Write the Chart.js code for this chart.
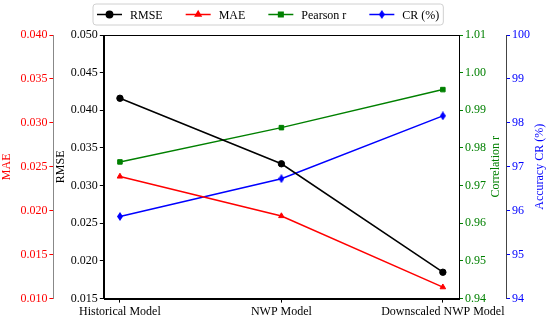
<!DOCTYPE html>
<html>
<head>
<meta charset="utf-8">
<script src="https://cdn.jsdelivr.net/npm/chart.js@4/dist/chart.umd.min.js"></script>
<style>
  html, body { margin: 0; padding: 0; background: #fff; }
  #wrap { width: 550px; height: 321px; }
</style>
</head>
<body>
<div id="wrap"><canvas id="chart"></canvas></div>
<script>
var categories = ['Historical Model', 'NWP Model', 'Downscaled NWP Model'];
var rmse = [0.0416, 0.0329, 0.0185];
var mae = [0.0239, 0.0194, 0.0113];
var pearson = [0.9763, 0.9854, 0.9955];
var cr = [95.87, 96.73, 98.16];

// axis ranges: [min, max, step]
var maeRange = [0.010, 0.040, 0.005];
var rmseRange = [0.015, 0.050, 0.005];
var pearsonRange = [0.94, 1.01, 0.01];
var crRange = [94, 100, 1];

var FONT = { family: '"Liberation Serif", "Times New Roman", serif', size: 12 };

// right-hand titles read bottom-to-top like matplotlib, so they get drawn by hand
var rightTitles = { yR: ['Correlation r', '#008000'], yCR: ['Accuracy CR (%)', '#0000ff'] };

function toPoints(arr) {
    return arr.map(function (v, i) { return { x: i, y: v }; });
}

// thin diamond marker for CR
function thinDiamond(color) {
    var c = document.createElement('canvas');
    c.width = 6; c.height = 9;
    var g = c.getContext('2d');
    g.fillStyle = color;
    g.beginPath();
    g.moveTo(3, 0); g.lineTo(6, 4.5); g.lineTo(3, 9); g.lineTo(0, 4.5);
    g.closePath();
    g.fill();
    return c;
}
var diamond = thinDiamond('#0000ff');

function yAxis(range, pos, weight, color, title, digits, spine, titlePad) {
    var ax = {
        type: 'linear',
        position: pos,
        weight: weight,
        min: range[0],
        max: range[1],
        grid: { display: true, drawOnChartArea: false, drawTicks: true, tickLength: 4, color: color },
        border: { display: true, color: spine, width: 1 },
        ticks: {
            stepSize: range[2],
            color: color,
            font: FONT,
            padding: 2,
            callback: function (v) { return Number(v).toFixed(digits); }
        },
        title: { display: pos === 'left', text: title, color: color, font: FONT, padding: { top: 0, bottom: titlePad } }
    };
    if (pos === 'right') {
        ax.afterFit = function (axis) { axis.width += titlePad; };
    }
    return ax;
}

// box around the plot area, like matplotlib spines; plus right titles
var frame = {
    id: 'frame',
    afterDatasetsDraw: function (c) {
        var a = c.chartArea, ctx = c.ctx;
        ctx.save();
        ctx.strokeStyle = '#000';
        ctx.lineWidth = 1;
        ctx.strokeRect(Math.round(a.left) + 0.5, Math.round(a.top) + 0.5,
            Math.round(a.right - a.left), Math.round(a.bottom - a.top));
        ctx.font = FONT.size + 'px ' + FONT.family;
        ctx.textAlign = 'center';
        ctx.textBaseline = 'middle';
        Object.keys(rightTitles).forEach(function (id) {
            var s = c.scales[id];
            ctx.save();
            ctx.translate(s.right - 10, (a.top + a.bottom) / 2);
            ctx.rotate(-Math.PI / 2);
            ctx.fillStyle = rightTitles[id][1];
            ctx.fillText(rightTitles[id][0], 0, 0);
            ctx.restore();
        });
        ctx.restore();
    }
};

// matplotlib style legend: line + marker + label in a rounded box
var legendBox = {
    id: 'legendBox',
    afterDraw: function (c) {
        var ctx = c.ctx;
        var sets = c.data.datasets;
        ctx.save();
        ctx.font = FONT.size + 'px ' + FONT.family;
        var x0 = 97, yc = 14.5, lineW = 25, gap = 8, pad = 23;
        var widths = sets.map(function (ds) { return ctx.measureText(ds.label).width; });
        var total = 0;
        widths.forEach(function (w, i) { total += lineW + gap + w + (i < widths.length - 1 ? pad : 0); });
        var left = x0 - 4, right = x0 + total + 4, top = 4, bottom = 25, r = 3;
        ctx.beginPath();
        ctx.moveTo(left + r, top);
        ctx.lineTo(right - r, top); ctx.quadraticCurveTo(right, top, right, top + r);
        ctx.lineTo(right, bottom - r); ctx.quadraticCurveTo(right, bottom, right - r, bottom);
        ctx.lineTo(left + r, bottom); ctx.quadraticCurveTo(left, bottom, left, bottom - r);
        ctx.lineTo(left, top + r); ctx.quadraticCurveTo(left, top, left + r, top);
        ctx.closePath();
        ctx.fillStyle = 'rgba(255,255,255,0.8)';
        ctx.fill();
        ctx.strokeStyle = '#d0d0d0';
        ctx.lineWidth = 1;
        ctx.stroke();
        var x = x0;
        sets.forEach(function (ds, i) {
            ctx.strokeStyle = ds.borderColor;
            ctx.lineWidth = 1.5;
            ctx.beginPath();
            ctx.moveTo(x, yc); ctx.lineTo(x + lineW, yc);
            ctx.stroke();
            ctx.fillStyle = ds.backgroundColor;
            Chart.helpers.drawPoint(ctx, { pointStyle: ds.pointStyle, radius: ds.pointRadius, rotation: 0, borderWidth: 1 }, x + lineW / 2, yc);
            ctx.fillStyle = '#000';
            ctx.textBaseline = 'middle';
            ctx.fillText(ds.label, x + lineW + gap, yc + 1);
            x += lineW + gap + widths[i] + pad;
        });
        ctx.restore();
    }
};

function series(label, data, color, style, axis) {
    return {
        label: label,
        data: toPoints(data),
        yAxisID: axis,
        borderColor: color,
        backgroundColor: color,
        borderWidth: 1.5,
        pointStyle: style,
        pointRadius: 3.2,
        pointHoverRadius: 3.2,
        pointBorderWidth: 1,
        fill: false,
        tension: 0
    };
}

new Chart(document.getElementById('chart').getContext('2d'), {
    type: 'line',
    data: {
        datasets: [
            series('RMSE', rmse, '#000000', 'circle', 'yRMSE'),
            series('MAE', mae, '#ff0000', 'triangle', 'yMAE'),
            series('Pearson r', pearson, '#008000', 'rect', 'yR'),
            series('CR (%)', cr, '#0000ff', diamond, 'yCR')
        ]
    },
    options: {
        responsive: true,
        maintainAspectRatio: false,
        animation: false,
        layout: { padding: { top: 35, left: 0, right: 0, bottom: 0 } },
        plugins: { legend: { display: false }, tooltip: { enabled: false } },
        scales: {
            x: {
                type: 'linear',
                min: -0.1,
                max: 2.1,
                afterBuildTicks: function (axis) {
                    axis.ticks = categories.map(function (c, i) { return { value: i }; });
                },
                grid: { display: true, drawOnChartArea: false, drawTicks: true, tickLength: 4, color: '#000' },
                border: { display: true, color: '#000' },
                ticks: {
                    color: '#000',
                    font: FONT,
                    padding: 2,
                    maxRotation: 0,
                    autoSkip: false,
                    callback: function (v) { return categories[v]; }
                }
            },
            yMAE: yAxis(maeRange, 'left', 2, '#ff0000', 'MAE', 3, '#888888', 4),
            yRMSE: yAxis(rmseRange, 'left', 1, '#000000', 'RMSE', 3, '#000000', 1),
            yR: yAxis(pearsonRange, 'right', 1, '#008000', 'Correlation r', 2, '#000000', 18),
            yCR: yAxis(crRange, 'right', 2, '#0000ff', 'Accuracy CR (%)', 0, '#444444', 18)
        }
    },
    plugins: [frame, legendBox]
});
</script>
</body>
</html>
